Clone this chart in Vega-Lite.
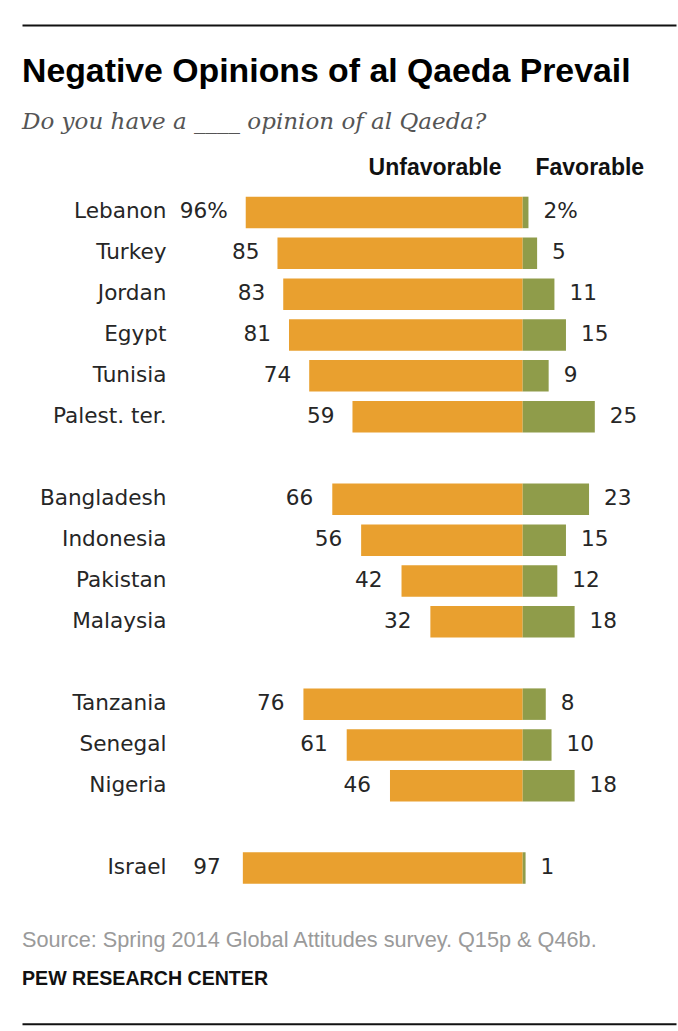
{
  "$schema": "https://vega.github.io/schema/vega-lite/v6.json",
  "padding": {"left": 22, "top": 24, "right": 2, "bottom": 6},
  "background": "white",
  "config": {"view": {"stroke": null}},
  "spacing": 40.86,
  "data": {
    "values": [
      {"country": "Lebanon", "region": "Middle East", "unfavorable": 96, "favorable": 2},
      {"country": "Turkey", "region": "Middle East", "unfavorable": 85, "favorable": 5},
      {"country": "Jordan", "region": "Middle East", "unfavorable": 83, "favorable": 11},
      {"country": "Egypt", "region": "Middle East", "unfavorable": 81, "favorable": 15},
      {"country": "Tunisia", "region": "Middle East", "unfavorable": 74, "favorable": 9},
      {"country": "Palest. ter.", "region": "Middle East", "unfavorable": 59, "favorable": 25},
      {"country": "Bangladesh", "region": "Asia", "unfavorable": 66, "favorable": 23},
      {"country": "Indonesia", "region": "Asia", "unfavorable": 56, "favorable": 15},
      {"country": "Pakistan", "region": "Asia", "unfavorable": 42, "favorable": 12},
      {"country": "Malaysia", "region": "Asia", "unfavorable": 32, "favorable": 18},
      {"country": "Tanzania", "region": "Africa", "unfavorable": 76, "favorable": 8},
      {"country": "Senegal", "region": "Africa", "unfavorable": 61, "favorable": 10},
      {"country": "Nigeria", "region": "Africa", "unfavorable": 46, "favorable": 18},
      {"country": "Israel", "region": "Israel", "unfavorable": 97, "favorable": 1}
    ]
  },
  "vconcat": [
    {
      "title": {
        "text": "Negative Opinions of al Qaeda Prevail",
        "subtitle": "Do you have a ____ opinion of al Qaeda?",
        "anchor": "start", "frame": "group", "orient": "top", "baseline": "top",
        "font": "Liberation Sans", "fontSize": 33.8, "fontWeight": "bold", "color": "#000000",
        "subtitleFont": "DejaVu Serif", "subtitleFontStyle": "italic", "subtitleFontSize": 23,
        "subtitleColor": "#555555", "subtitlePadding": 22.6, "offset": -109.1
      },
      "width": 654,
      "height": {"step": 40.86},
      "transform": [{"filter": "datum.region === 'Middle East'"}],
      "encoding": {
        "y": {"field": "country", "type": "nominal", "sort": null,
          "scale": {"paddingInner": 0.229, "paddingOuter": 0.1145},
          "axis": {"orient": "left", "offset": -144, "labelPadding": 0, "ticks": false, "tickSize": 0, "domain": false, "grid": false, "title": null,
            "labelFont": "DejaVu Sans", "labelFontSize": 21.6, "labelColor": "#262626", "labelAlign": "right", "labelBaseline": "middle"}}
      },
      "layer": [
        {
          "encoding": {"x": {"field": "unfavorable", "type": "quantitative", "scale": {"domain": [-53.14, 173.55], "reverse": true, "nice": false, "zero": false}, "axis": null}},
          "layer": [
            {"mark": {"type": "bar", "color": "#E9A02F"}, "encoding": {"x2": {"datum": 0}}},
            {"mark": {"type": "text", "align": "right", "baseline": "middle", "dx": -18, "font": "DejaVu Sans", "fontSize": 21.6, "color": "#262626"},
              "encoding": {"text": {"condition": {"test": "datum.country === 'Lebanon'", "value": {"expr": "datum.unfavorable + '%'"}}, "field": "unfavorable", "type": "quantitative"}}}
          ]
        },
        {
          "encoding": {"x": {"field": "favorable", "type": "quantitative", "scale": {"domain": [-173.55, 53.14], "nice": false, "zero": false},
            "axis": {"orient": "top", "values": [-7.52, 4.26], "labelExpr": "datum.value < 0 ? 'Unfavorable' : 'Favorable'",
              "labelAlign": {"condition": {"test": "datum.value < 0", "value": "right"}, "value": "left"},
              "labelFont": "Liberation Sans", "labelFontWeight": "bold", "labelFontSize": 23, "labelColor": "#111111",
              "labelBaseline": "alphabetic", "labelPadding": -150, "ticks": false, "tickSize": 0, "domain": true, "domainColor": "#111111", "domainWidth": 2,
              "offset": 167.07, "grid": false, "title": null, "labelFlush": false, "labelOverlap": false, "labelBound": false}}},
          "layer": [
            {"mark": {"type": "bar", "color": "#8F9C4A"}, "encoding": {"x2": {"datum": 0}}},
            {"mark": {"type": "text", "align": "left", "baseline": "middle", "dx": 15, "font": "DejaVu Sans", "fontSize": 21.6, "color": "#262626"},
              "encoding": {"text": {"condition": {"test": "datum.country === 'Lebanon'", "value": {"expr": "datum.favorable + '%'"}}, "field": "favorable", "type": "quantitative"}}}
          ]
        }
      ],
      "resolve": {"scale": {"x": "independent"}}
    },
    {
      "width": 654,
      "height": {"step": 40.86},
      "transform": [{"filter": "datum.region === 'Asia'"}],
      "encoding": {
        "y": {"field": "country", "type": "nominal", "sort": null,
          "scale": {"paddingInner": 0.229, "paddingOuter": 0.1145},
          "axis": {"orient": "left", "offset": -144, "labelPadding": 0, "ticks": false, "tickSize": 0, "domain": false, "grid": false, "title": null,
            "labelFont": "DejaVu Sans", "labelFontSize": 21.6, "labelColor": "#262626", "labelAlign": "right", "labelBaseline": "middle"}}
      },
      "layer": [
        {
          "encoding": {"x": {"field": "unfavorable", "type": "quantitative", "scale": {"domain": [-53.14, 173.55], "reverse": true, "nice": false, "zero": false}, "axis": null}},
          "layer": [
            {"mark": {"type": "bar", "color": "#E9A02F"}, "encoding": {"x2": {"datum": 0}}},
            {"mark": {"type": "text", "align": "right", "baseline": "middle", "dx": -19, "font": "DejaVu Sans", "fontSize": 21.6, "color": "#262626"},
              "encoding": {"text": {"field": "unfavorable", "type": "quantitative"}}}
          ]
        },
        {
          "encoding": {"x": {"field": "favorable", "type": "quantitative", "scale": {"domain": [-173.55, 53.14], "nice": false, "zero": false}, "axis": null}},
          "layer": [
            {"mark": {"type": "bar", "color": "#8F9C4A"}, "encoding": {"x2": {"datum": 0}}},
            {"mark": {"type": "text", "align": "left", "baseline": "middle", "dx": 15, "font": "DejaVu Sans", "fontSize": 21.6, "color": "#262626"},
              "encoding": {"text": {"field": "favorable", "type": "quantitative"}}}
          ]
        }
      ],
      "resolve": {"scale": {"x": "independent"}}
    },
    {
      "width": 654,
      "height": {"step": 40.86},
      "transform": [{"filter": "datum.region === 'Africa'"}],
      "encoding": {
        "y": {"field": "country", "type": "nominal", "sort": null,
          "scale": {"paddingInner": 0.229, "paddingOuter": 0.1145},
          "axis": {"orient": "left", "offset": -144, "labelPadding": 0, "ticks": false, "tickSize": 0, "domain": false, "grid": false, "title": null,
            "labelFont": "DejaVu Sans", "labelFontSize": 21.6, "labelColor": "#262626", "labelAlign": "right", "labelBaseline": "middle"}}
      },
      "layer": [
        {
          "encoding": {"x": {"field": "unfavorable", "type": "quantitative", "scale": {"domain": [-53.14, 173.55], "reverse": true, "nice": false, "zero": false}, "axis": null}},
          "layer": [
            {"mark": {"type": "bar", "color": "#E9A02F"}, "encoding": {"x2": {"datum": 0}}},
            {"mark": {"type": "text", "align": "right", "baseline": "middle", "dx": -19, "font": "DejaVu Sans", "fontSize": 21.6, "color": "#262626"},
              "encoding": {"text": {"field": "unfavorable", "type": "quantitative"}}}
          ]
        },
        {
          "encoding": {"x": {"field": "favorable", "type": "quantitative", "scale": {"domain": [-173.55, 53.14], "nice": false, "zero": false}, "axis": null}},
          "layer": [
            {"mark": {"type": "bar", "color": "#8F9C4A"}, "encoding": {"x2": {"datum": 0}}},
            {"mark": {"type": "text", "align": "left", "baseline": "middle", "dx": 15, "font": "DejaVu Sans", "fontSize": 21.6, "color": "#262626"},
              "encoding": {"text": {"field": "favorable", "type": "quantitative"}}}
          ]
        }
      ],
      "resolve": {"scale": {"x": "independent"}}
    },
    {
      "title": {
        "text": "Source: Spring 2014 Global Attitudes survey. Q15p & Q46b.",
        "subtitle": "PEW RESEARCH CENTER",
        "anchor": "start", "frame": "group", "orient": "bottom", "baseline": "top",
        "font": "Liberation Sans", "fontSize": 21.7, "fontWeight": "normal", "color": "#9a9a9a",
        "subtitleFont": "Liberation Sans", "subtitleFontWeight": "bold", "subtitleFontSize": 19.6,
        "subtitleColor": "#111111", "subtitlePadding": 18.2, "offset": -93.4
      },
      "width": 654,
      "height": {"step": 40.86},
      "transform": [{"filter": "datum.region === 'Israel'"}],
      "encoding": {
        "y": {"field": "country", "type": "nominal", "sort": null,
          "scale": {"paddingInner": 0.229, "paddingOuter": 0.1145},
          "axis": {"orient": "left", "offset": -144, "labelPadding": 0, "ticks": false, "tickSize": 0, "domain": false, "grid": false, "title": null,
            "labelFont": "DejaVu Sans", "labelFontSize": 21.6, "labelColor": "#262626", "labelAlign": "right", "labelBaseline": "middle"}}
      },
      "layer": [
        {
          "encoding": {"x": {"field": "unfavorable", "type": "quantitative", "scale": {"domain": [-53.14, 173.55], "reverse": true, "nice": false, "zero": false}, "axis": null}},
          "layer": [
            {"mark": {"type": "bar", "color": "#E9A02F"}, "encoding": {"x2": {"datum": 0}}},
            {"mark": {"type": "text", "align": "right", "baseline": "middle", "dx": -22, "font": "DejaVu Sans", "fontSize": 21.6, "color": "#262626"},
              "encoding": {"text": {"field": "unfavorable", "type": "quantitative"}}}
          ]
        },
        {
          "encoding": {"x": {"field": "favorable", "type": "quantitative", "scale": {"domain": [-173.55, 53.14], "nice": false, "zero": false},
            "axis": {"orient": "bottom", "labels": false, "ticks": false, "tickSize": 0, "domain": true, "domainColor": "#111111", "domainWidth": 2,
              "offset": 135.3, "grid": false, "title": null}}},
          "layer": [
            {"mark": {"type": "bar", "color": "#8F9C4A"}, "encoding": {"x2": {"datum": 0}}},
            {"mark": {"type": "text", "align": "left", "baseline": "middle", "dx": 15, "font": "DejaVu Sans", "fontSize": 21.6, "color": "#262626"},
              "encoding": {"text": {"field": "favorable", "type": "quantitative"}}}
          ]
        }
      ],
      "resolve": {"scale": {"x": "independent"}}
    }
  ]
}
